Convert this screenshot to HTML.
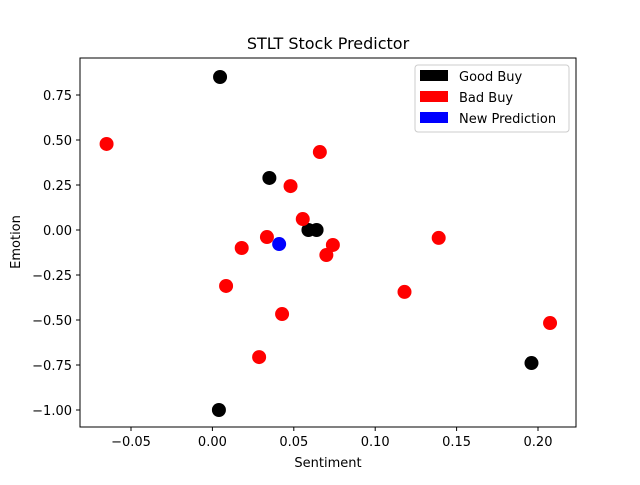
<!DOCTYPE html>
<html><head><meta charset="utf-8"><style>
body{margin:0;background:#fff}
svg{font-family:"DejaVu Sans","Liberation Sans",sans-serif}
</style></head><body>
<svg id="chart" width="640" height="480" viewBox="0 0 640 480">
<rect width="640" height="480" fill="#fff"/>
<text x="328" y="49" font-size="16" text-anchor="middle">STLT Stock Predictor</text>
<g id="marks"></g>
<g id="axes"></g>
<rect x="80" y="58" width="496" height="369" fill="none" stroke="#000" stroke-width="1"/>
<text x="328" y="467" font-size="13" text-anchor="middle">Sentiment</text>
<text x="20" y="242" font-size="13" text-anchor="middle" transform="rotate(-90 20 242)">Emotion</text>
<g>
<rect x="415" y="65" width="154" height="67" rx="3" fill="#fff" stroke="#ccc"/>
<g><rect x="420" y="70" width="28" height="11" fill="#000"/><text x="459" y="81" font-size="13">Good Buy</text></g>
<g><rect x="420" y="91" width="28" height="11" fill="#f00"/><text x="459" y="102" font-size="13">Bad Buy</text></g>
<g><rect x="420" y="112" width="28" height="11" fill="#00f"/><text x="459" y="123" font-size="13">New Prediction</text></g>
</g>
</svg>
<script>
const goodX=[0.0047,0.035,0.059,0.064,0.196,0.004];
const goodY=[0.85,0.289,0.0,0.0,-0.739,-1.0];
const badX=[-0.065,0.066,0.048,0.0555,0.0335,0.018,0.074,0.070,0.139,0.0084,0.0428,0.118,0.0287,0.2074];
const badY=[0.478,0.433,0.244,0.061,-0.039,-0.1,-0.083,-0.139,-0.044,-0.311,-0.467,-0.344,-0.706,-0.517];
const newX=[0.041];
const newY=[-0.078];
const xTicks=[-0.05,0.00,0.05,0.10,0.15,0.20];
const xTickLabels=["−0.05","0.00","0.05","0.10","0.15","0.20"];
const yTicks=[0.75,0.5,0.25,0,-0.25,-0.5,-0.75,-1.0];
const yTickLabels=["0.75","0.50","0.25","0.00","−0.25","−0.50","−0.75","−1.00"];
const NS="http://www.w3.org/2000/svg";
function sx(v){return 212.4+v*1628;}
function sy(v){return 230-v*180;}
const marks=document.getElementById('marks');
function plot(xs,ys,color,name){
 xs.forEach((x,i)=>{
  const c=document.createElementNS(NS,'circle');
  c.setAttribute('cx',sx(x));c.setAttribute('cy',sy(ys[i]));c.setAttribute('r',7);c.setAttribute('fill',color);
  
  
  marks.appendChild(c);
 });
}
plot(goodX,goodY,'#000','good-buy');
plot(badX,badY,'#f00','bad-buy');
plot(newX,newY,'#00f','new-prediction');
const axes=document.getElementById('axes');
xTicks.forEach((t,i)=>{
 const x=sx(t);
 const l=document.createElementNS(NS,'line');
 l.setAttribute('x1',x);l.setAttribute('x2',x);l.setAttribute('y1',427);l.setAttribute('y2',431);l.setAttribute('stroke','#000');
 
 
 axes.appendChild(l);
 const tx=document.createElementNS(NS,'text');
 tx.setAttribute('x',x);tx.setAttribute('y',446);tx.setAttribute('font-size','13');tx.setAttribute('text-anchor','middle');
 tx.textContent=xTickLabels[i];
 
 
 axes.appendChild(tx);
});
yTicks.forEach((t,i)=>{
 const y=sy(t);
 const l=document.createElementNS(NS,'line');
 l.setAttribute('x1',76);l.setAttribute('x2',80);l.setAttribute('y1',y);l.setAttribute('y2',y);l.setAttribute('stroke','#000');
 
 
 axes.appendChild(l);
 const tx=document.createElementNS(NS,'text');
 tx.setAttribute('x',72);tx.setAttribute('y',y+5);tx.setAttribute('font-size','13');tx.setAttribute('text-anchor','end');
 tx.textContent=yTickLabels[i];
 
 
 axes.appendChild(tx);
});
</script>
</body></html>
